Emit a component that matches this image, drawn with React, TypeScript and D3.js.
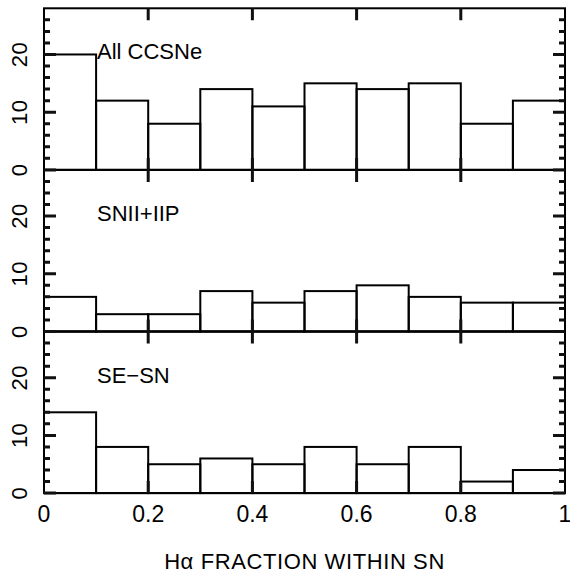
import React, { useEffect, useRef } from 'react'
import * as d3 from 'd3'

// bin edges 0.0 .. 1.0, step 0.1
const binStarts = [0, 0.1, 0.2, 0.3, 0.4, 0.5, 0.6, 0.7, 0.8, 0.9]
const binWidth = 0.1

const panelNames = ['All CCSNe', 'SNII+IIP', 'SE\u2212SN']
const allCCSNe = [20, 12, 8, 14, 11, 15, 14, 15, 8, 12]
const snIIP = [6, 3, 3, 7, 5, 7, 8, 6, 5, 5]
const seSN = [14, 8, 5, 6, 5, 8, 5, 8, 2, 4]

const yMajor = [0, 10, 20]
const yMinor = [2, 4, 6, 8, 12, 14, 16, 18, 22, 24, 26]
const xTicks = [0, 0.2, 0.4, 0.6, 0.8, 1]
const xTickLabels = ['0', '0.2', '0.4', '0.6', '0.8', '1']
const xTitle = 'H\u03b1  FRACTION  WITHIN  SN'

function App() {
    const svgRef = useRef<SVGSVGElement>(null)

    useEffect(() => {
        const width = 570
        const height = 573
        const left = 44
        const right = 565
        const top = 8.3
        const panelH = 161.6
        const font = '"Liberation Sans", Arial, sans-serif'

        const svg = d3.select(svgRef.current)
            .attr('width', width)
            .attr('height', height)
        svg.selectAll('*').remove()

        const x = d3.scaleLinear().domain([0, 1]).range([left, right])
        const series = [allCCSNe, snIIP, seSN]
        const tp = d3.path()

        series.forEach((vals, p) => {
            const y0 = top + p * panelH
            const y = d3.scaleLinear().domain([0, 28]).range([y0 + panelH, y0])

            // bars
            svg.selectAll(`rect.bar${p}`)
                .data(vals)
                .join('rect')
                .attr('class', `bar${p}`)
                .attr('x', (d, i) => x(binStarts[i]))
                .attr('y', d => y(d))
                .attr('width', x(binWidth) - x(0))
                .attr('height', d => y(0) - y(d))
                .attr('fill', 'none')
                .attr('stroke', '#000')
                .attr('stroke-width', 2)

            // frame
            svg.append('rect')
                .attr('x', left)
                .attr('y', y0)
                .attr('width', right - left)
                .attr('height', panelH)
                .attr('fill', 'none')
                .attr('stroke', '#000')
                .attr('stroke-width', 2)

            // tick marks, all inward
            yMajor.forEach(v => {
                tp.moveTo(left, y(v)); tp.lineTo(left + 12, y(v))
                tp.moveTo(right, y(v)); tp.lineTo(right - 12, y(v))
            })
            yMinor.forEach(v => {
                tp.moveTo(left, y(v)); tp.lineTo(left + 6, y(v))
                tp.moveTo(right, y(v)); tp.lineTo(right - 6, y(v))
            })
            xTicks.slice(1, -1).forEach(v => {
                tp.moveTo(x(v), y0); tp.lineTo(x(v), y0 + 12)
                tp.moveTo(x(v), y0 + panelH); tp.lineTo(x(v), y0 + panelH - 12)
            })

            // y tick labels, rotated
            svg.selectAll(`text.ylab${p}`)
                .data(yMajor)
                .join('text')
                .attr('class', `ylab${p}`)
                .attr('transform', d => `translate(27,${y(d)}) rotate(-90)`)
                .attr('text-anchor', 'middle')
                .attr('font-family', font)
                .attr('font-size', 22)
                .attr('letter-spacing', 0.5)
                .text(d => String(d))

            // panel name
            svg.append('text')
                .attr('x', 97)
                .attr('y', y0 + 51)
                .attr('font-family', font)
                .attr('font-size', 22)
                .text(panelNames[p])
        })

        svg.append('path')
            .attr('d', tp.toString())
            .attr('fill', 'none')
            .attr('stroke', '#111')
            .attr('stroke-width', 3)

        const yb = top + 3 * panelH
        svg.selectAll('text.xlab')
            .data(xTicks)
            .join('text')
            .attr('class', 'xlab')
            .attr('x', d => x(d))
            .attr('y', yb + 29)
            .attr('text-anchor', 'middle')
            .attr('font-family', font)
            .attr('font-size', 23)
            .text((d, i) => xTickLabels[i])

        svg.append('text')
            .attr('x', (left + right) / 2)
            .attr('y', 569)
            .attr('text-anchor', 'middle')
            .attr('font-family', font)
            .attr('font-size', 22)
            .attr('letter-spacing', 0.6)
            .text(xTitle)
    }, [])

    return (
        <svg ref={svgRef} style={{ position: 'absolute', left: 0, top: 0, background: '#fff' }}></svg>
    )
}

export default App
